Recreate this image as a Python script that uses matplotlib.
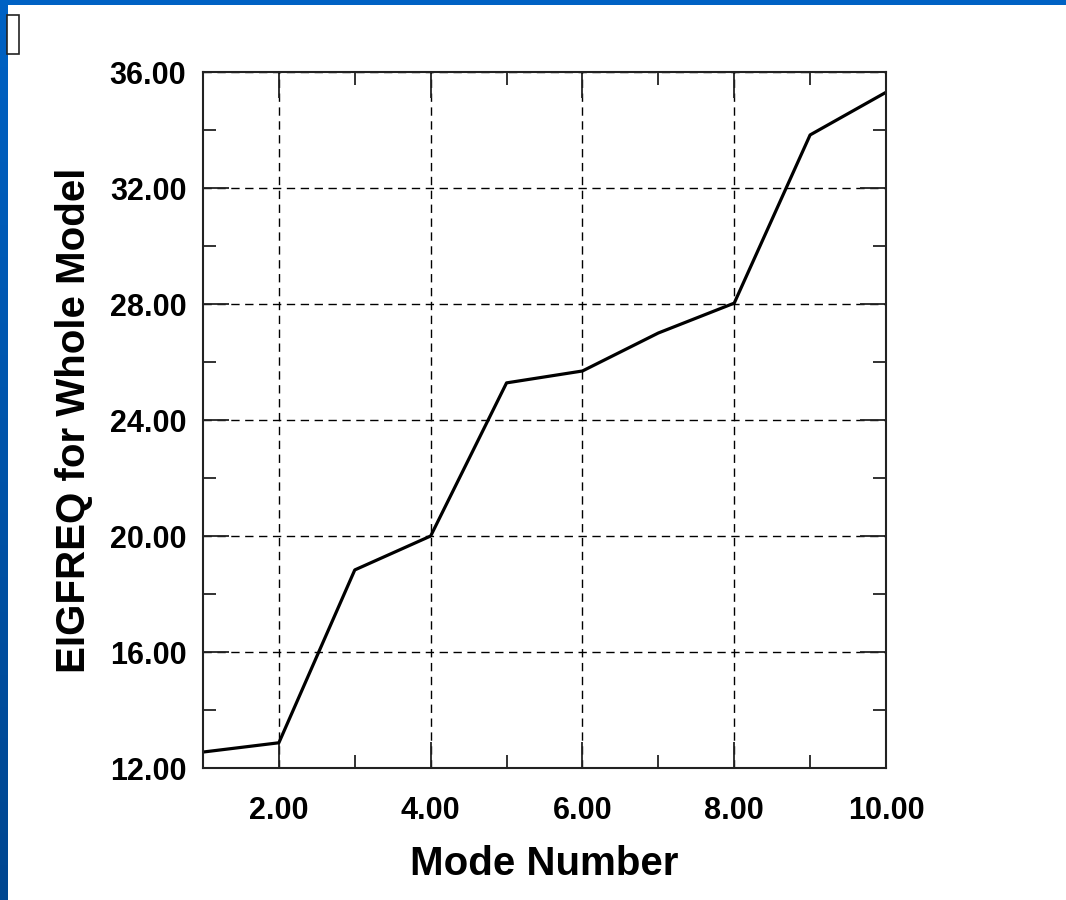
import numpy as np
import matplotlib
matplotlib.use('Agg')
import matplotlib.pyplot as plt
from matplotlib.patches import Rectangle
from matplotlib.colors import LinearSegmentedColormap
from matplotlib.ticker import MultipleLocator, FormatStrFormatter

plt.rcParams['font.family'] = ['Liberation Sans', 'DejaVu Sans']

# 模态数据
mode_number = [1, 2, 3, 4, 5, 6, 7, 8, 9, 10]
eigfreq = [12.55, 12.87, 18.83, 20.0, 25.28, 25.69, 27.0, 28.03, 33.83, 35.3]

W, H = 1066, 900
fig = plt.figure(figsize=(W / 100, H / 100), dpi=100)
fig.patch.set_facecolor('white')

# 左侧与顶部的蓝色边框
bar = fig.add_axes([0, 0, 7 / W, 1])
grad = np.linspace(0, 1, 256).reshape(-1, 1)
cmap = LinearSegmentedColormap.from_list('frame', ['#0062c4', '#004690'])
bar.imshow(grad, aspect='auto', cmap=cmap, extent=[0, 1, 0, 1], origin='upper')
bar.set_axis_off()
top = fig.add_axes([0, 1 - 5 / H, 1, 5 / H])
top.set_facecolor('#0062c4')
top.set_xticks([]); top.set_yticks([])
for s in top.spines.values():
    s.set_visible(False)

fig.patches.append(Rectangle((7 / W, 1 - 54 / H), 12 / W, 39 / H, transform=fig.transFigure,
                             facecolor='white', edgecolor='#222222', linewidth=1.2))

ax = fig.add_axes([203 / W, 1 - 768 / H, 683 / W, 696 / H])
ax.plot(mode_number, eigfreq, color='black', linewidth=2.3)

ax.set_xlim(1, 10)
ax.set_ylim(12, 36)
ax.xaxis.set_major_locator(MultipleLocator(2))
ax.xaxis.set_minor_locator(MultipleLocator(1))
ax.yaxis.set_major_locator(MultipleLocator(4))
ax.yaxis.set_minor_locator(MultipleLocator(2))
ax.xaxis.set_major_formatter(FormatStrFormatter('%.2f'))
ax.yaxis.set_major_formatter(FormatStrFormatter('%.2f'))

ax.grid(True, which='major', linestyle=(0, (6, 4)), color='black', linewidth=1.0)
ax.tick_params(which='both', direction='in', top=True, right=True, width=1.3, color='#222222')
ax.tick_params(which='major', length=19, labelsize=22)
ax.tick_params(axis='x', which='major', pad=20)
ax.tick_params(axis='y', which='major', pad=12)
ax.tick_params(which='minor', length=9.5)
for lab in ax.get_xticklabels() + ax.get_yticklabels():
    lab.set_fontweight('bold')
for s in ax.spines.values():
    s.set_linewidth(1.5)
    s.set_color('#222222')

ax.set_xlabel('Mode Number', fontsize=29, fontweight='bold', labelpad=14)
ax.set_ylabel('EIGFREQ for Whole Model', fontsize=29, fontweight='bold', labelpad=12)

fig.savefig('out.png', dpi=100)
